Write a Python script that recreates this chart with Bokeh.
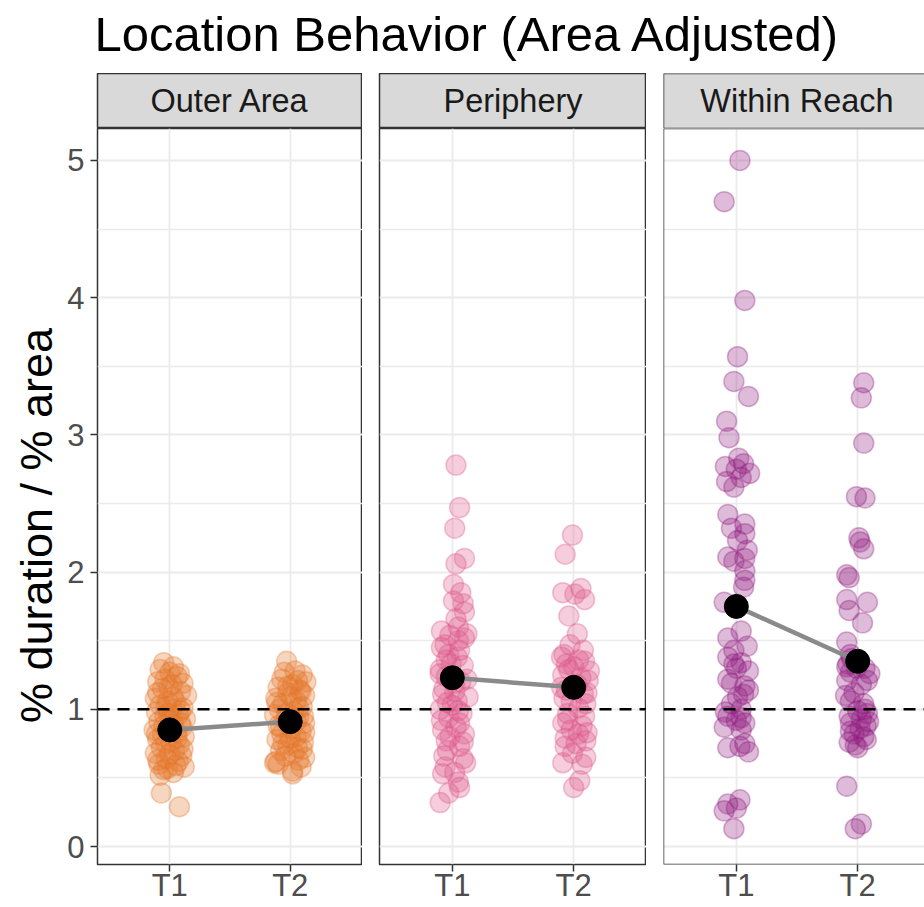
import math
from bokeh.plotting import figure
from bokeh.models import Range1d, LinearAxis, FixedTicker, Grid, Span, Label, ColumnDataSource
from bokeh.layouts import column, row
from bokeh.embed import file_html
from bokeh.resources import INLINE

# ---------------- data ----------------
title_text = "Location Behavior (Area Adjusted)"
y_label = "% duration / % area"
areas = ["Outer Area", "Periphery", "Within Reach"]
time_labels = ["T1", "T2"]
time_pos = [1, 2]
y_ticks = [0, 1, 2, 3, 4, 5]
y_minor = [0.5, 1.5, 2.5, 3.5, 4.5]
reference_level = 1

outer_t1_y = [1.34, 1.31, 1.29, 1.27, 1.24, 1.22, 1.20, 1.18, 1.15, 1.13, 1.10, 1.08, 1.06, 1.05, 1.03,
              1.01, 1.00, 0.98, 0.96, 0.95, 0.93, 0.91, 0.89, 0.87, 0.85, 0.83, 0.81, 0.80, 0.78, 0.76,
              0.74, 0.72, 0.70, 0.68, 0.66, 0.64, 0.62, 0.60, 0.58, 0.56, 0.54, 0.52, 0.39, 0.29,
              1.26, 1.19, 1.16, 1.12, 1.09, 1.02, 0.99, 0.97, 0.92, 0.90, 0.88, 0.84, 0.82, 0.79, 0.75,
              0.71, 0.67, 0.63, 0.59, 0.57]
outer_t1_dx = [-0.05, 0.03, -0.08, 0.00, 0.06, -0.04, -0.10, 0.02, -0.06, 0.09, 0.14, -0.12, -0.02, 0.05, -0.08,
               0.11, 0.02, -0.11, 0.07, -0.04, 0.13, -0.09, 0.03, 0.10, -0.13, 0.06, -0.06, 0.12, -0.10, 0.01,
               0.08, -0.07, 0.04, -0.12, 0.10, -0.03, 0.07, -0.09, 0.12, -0.05, 0.03, -0.08, -0.07, 0.08,
               0.08, 0.11, -0.01, -0.10, 0.03, -0.03, 0.09, -0.01, 0.00, 0.09, -0.05, 0.01, -0.11, 0.06, -0.03,
               0.11, 0.00, -0.10, 0.05, -0.02]
outer_t2_y = [1.35, 1.28, 1.25, 1.22, 1.20, 1.18, 1.16, 1.14, 1.12, 1.10, 1.08, 1.06, 1.04, 1.02, 1.00,
              0.98, 0.96, 0.94, 0.92, 0.90, 0.88, 0.86, 0.84, 0.82, 0.80, 0.78, 0.76, 0.74, 0.72, 0.70,
              0.68, 0.65, 0.62, 0.60, 0.58, 0.55, 0.53, 0.61,
              1.27, 1.21, 1.17, 1.13, 1.09, 1.05, 1.01, 0.97, 0.95, 0.91, 0.87, 0.83, 0.79, 0.75, 0.71,
              0.66, 0.63]
outer_t2_dx = [-0.03, 0.04, 0.10, -0.07, 0.13, 0.02, -0.10, 0.08, -0.02, 0.12, -0.12, 0.05, -0.06, 0.10, -0.09,
               0.03, -0.13, 0.07, -0.04, 0.12, -0.10, 0.01, 0.09, -0.07, 0.05, -0.11, 0.11, -0.02, 0.06, -0.08,
               0.03, 0.12, -0.12, -0.10, 0.09, 0.02, 0.02, -0.13,
               -0.05, 0.06, -0.02, 0.09, 0.01, -0.11, 0.07, -0.03, 0.11, 0.05, -0.08, 0.12, 0.00, -0.06, 0.10,
               -0.04, 0.07]

periph_t1_y = [2.78, 2.47, 2.32, 2.10, 2.06, 1.91, 1.85, 1.79, 1.77, 1.71, 1.66, 1.57, 1.54, 1.55, 1.50,
               1.47, 1.43, 1.40, 1.36, 1.32, 1.29, 1.26, 1.22, 1.19, 1.15, 1.11, 1.09, 1.06, 1.03, 1.00,
               0.97, 0.94, 0.90, 0.85, 0.82, 0.77, 0.76, 0.70, 0.64, 0.58, 0.53, 0.54, 0.47, 0.43, 0.39, 0.32,
               1.60, 1.52, 1.45, 1.38, 1.33, 1.24, 1.20, 1.13, 1.05, 0.99, 0.92, 0.87, 0.80, 0.73, 0.66, 0.61]
periph_t1_dx = [0.03, 0.06, 0.02, 0.10, 0.03, 0.01, 0.07, 0.01, 0.09, 0.10, 0.03, -0.09, -0.02, 0.12, 0.05,
                -0.06, 0.06, -0.03, -0.05, 0.09, -0.10, -0.10, 0.12, 0.02, -0.07, -0.08, 0.13, 0.04, 0.00, -0.10,
                0.08, -0.03, 0.06, -0.08, 0.10, -0.05, 0.09, -0.04, 0.09, -0.06, -0.08, 0.02, 0.05, 0.06, -0.03, -0.10,
                0.05, 0.10, -0.09, 0.04, -0.01, -0.05, 0.07, 0.02, -0.04, 0.05, -0.09, 0.03, -0.02, 0.06, -0.07, 0.11]
periph_t2_y = [2.27, 2.13, 1.88, 1.85, 1.84, 1.80, 1.68, 1.55, 1.43, 1.40, 1.38, 1.35, 1.33, 1.31, 1.28,
               1.25, 1.21, 1.18, 1.14, 1.11, 1.08, 1.04, 1.01, 0.97, 0.92, 0.88, 0.85, 0.82, 0.79, 0.77,
               0.73, 0.68, 0.61, 0.60, 0.48, 0.43,
               1.47, 1.36, 1.29, 1.23, 1.16, 1.12, 1.06, 0.95, 0.90, 0.83, 0.75, 0.65]
periph_t2_dx = [-0.01, -0.07, 0.06, -0.09, 0.01, 0.09, -0.04, 0.03, 0.08, -0.08, -0.10, 0.09, -0.06, 0.00, 0.13,
                -0.09, 0.12, 0.03, -0.06, 0.08, -0.08, 0.10, 0.04, -0.05, -0.05, 0.07, -0.02, 0.04, -0.07, 0.10,
                -0.07, -0.01, -0.09, 0.07, 0.05, 0.00,
                -0.03, 0.04, -0.04, 0.06, -0.10, 0.11, -0.02, 0.09, -0.09, 0.11, 0.02, 0.10]

within_t1_y = [5.00, 4.70, 3.98, 3.57, 3.39, 3.28, 3.10, 2.98, 2.83, 2.77, 2.75, 2.72, 2.66, 2.62, 2.42,
               2.35, 2.28, 2.23, 2.11, 2.08, 2.10, 2.01, 1.94, 1.89, 1.78, 1.57, 1.52, 1.43, 1.38, 1.34,
               1.33, 1.28, 1.22, 1.17, 1.14, 1.09, 1.04, 1.00, 0.95, 0.94, 0.90, 0.87, 0.75, 0.72, 0.69,
               0.34, 0.31, 0.26, 0.13,
               2.79, 2.69, 2.32, 2.16, 1.46, 1.30, 1.19, 1.11, 0.98, 0.92, 0.85, 0.73, 0.28]
within_t1_dx = [0.03, -0.10, 0.07, 0.01, -0.02, 0.10, -0.08, -0.06, 0.02, -0.09, 0.00, 0.11, -0.08, -0.02, -0.07,
                0.07, 0.07, 0.01, -0.07, -0.02, 0.07, 0.07, 0.07, 0.06, -0.10, 0.04, -0.07, -0.02, -0.07, 0.04,
                -0.02, 0.10, -0.07, 0.07, 0.10, 0.01, -0.04, 0.04, -0.07, 0.04, 0.07, -0.10, 0.07, -0.07, 0.10,
                0.03, -0.07, -0.10, -0.02,
                0.06, 0.04, -0.04, 0.09, 0.09, 0.00, -0.04, 0.06, -0.09, 0.00, 0.04, 0.03, 0.00]
within_t2_y = [3.38, 3.27, 2.94, 2.55, 2.54, 2.25, 2.22, 2.17, 1.98, 1.96, 1.80, 1.78, 1.72, 1.63, 1.49,
               1.40, 1.33, 1.31, 1.30, 1.30, 1.26, 1.21, 1.21, 1.12, 1.06, 1.04, 0.99, 0.97, 0.93, 0.90,
               0.88, 0.82, 0.80, 0.76, 0.72, 0.44, 0.165, 0.13,
               1.37, 1.27, 1.18, 1.10, 1.00, 0.95, 0.91, 0.86, 0.84, 0.78, 0.74]
within_t2_dx = [0.05, 0.03, 0.05, -0.01, 0.06, 0.01, 0.02, 0.05, -0.09, -0.07, -0.09, 0.08, -0.07, 0.04, -0.09,
                -0.06, -0.08, -0.09, -0.01, 0.06, 0.10, 0.08, -0.09, -0.03, -0.06, 0.05, 0.00, 0.08, 0.03, -0.06,
                0.07, -0.03, 0.05, -0.07, 0.00, -0.09, 0.03, -0.02,
                -0.05, -0.06, 0.03, -0.10, 0.06, -0.07, 0.09, 0.02, -0.06, 0.07, -0.02]

mean_outer = [0.85, 0.91]
mean_periph = [1.23, 1.16]
mean_within = [1.75, 1.35]

# ---------------- styling ----------------
FONT = "Liberation Sans"
area_colors = ["#E6762A", "#DE5A8A", "#911E82"]
GRID = "#EBEBEB"
BORDER = "#333333"
Y_RANGE = (-0.131, 5.233)

panel_data = [
    ((outer_t1_y, outer_t1_dx), (outer_t2_y, outer_t2_dx), mean_outer),
    ((periph_t1_y, periph_t1_dx), (periph_t2_y, periph_t2_dx), mean_periph),
    ((within_t1_y, within_t1_dx), (within_t2_y, within_t2_dx), mean_within),
]

# layout geometry (pixels)
FRAME_W = 267
GAP = 17
LEFT = 95
YLAB_W = 64                 # width of the strip of page holding the y-axis title
HEADER_H = 73
STRIP_H = 55
DATA_H = 779
BOTTOM = 43
BODY_H = STRIP_H + DATA_H
LAST_FRAME_W = 924 - (LEFT + FRAME_W + GAP + FRAME_W + GAP)
YLABEL_CENTER_PX = 525      # vertical centre of the y-axis title (page pixels)
YLABEL_X_PX = 36            # horizontal centre of the y-axis title (page pixels)


def strip_grids(p):
    p.center = [r for r in p.center if not isinstance(r, Grid)]


def base_fig(width, height, left, x_range, y_range, bottom=0, outline=True):
    p = figure(width=width, height=height, output_backend="svg", toolbar_location=None, title=None,
               x_range=x_range, y_range=y_range, x_axis_location=None, y_axis_location=None,
               min_border_left=left, min_border_right=0, min_border_top=0, min_border_bottom=bottom,
               background_fill_color="white", border_fill_color="white")
    strip_grids(p)
    p.outline_line_color = BORDER if outline else None
    p.outline_line_width = 1.5
    return p


def blank_fig(width, height):
    p = figure(width=width, height=height, output_backend="svg", toolbar_location=None, title=None,
               x_range=Range1d(0, width), y_range=Range1d(0, height),
               x_axis_location=None, y_axis_location=None, min_border=0, outline_line_color=None)
    strip_grids(p)
    return p


header = blank_fig(924, HEADER_H)
header.add_layout(Label(x=LEFT - 1, y=HEADER_H - 33, text=title_text,
                        text_font=FONT, text_font_size="49px", text_color="black",
                        text_baseline="middle", text_align="left"))

ylab = blank_fig(YLAB_W, BODY_H)
ylab.add_layout(Label(x=YLABEL_X_PX, y=BODY_H - (YLABEL_CENTER_PX - HEADER_H),
                      text=y_label, angle=math.pi / 2, text_font=FONT, text_font_size="45px",
                      text_color="black", text_align="center", text_baseline="middle"))

columns = [ylab]
for i, (area, (t1, t2, means)) in enumerate(zip(areas, panel_data)):
    last = (i == 2)
    fw = LAST_FRAME_W if last else FRAME_W
    left = (LEFT - YLAB_W) if i == 0 else GAP
    x_end = 0.4 + 2.2 * fw / FRAME_W

    # strip
    s = base_fig(left + fw, STRIP_H, left, Range1d(0.4, x_end), Range1d(0, 1), outline=not last)
    s.background_fill_color = "#D9D9D9"
    if last:
        s.add_layout(Span(location=0.4, dimension="height", line_color=BORDER, line_width=1.5))
        s.add_layout(Span(location=0, dimension="width", line_color=BORDER, line_width=1.5))
        s.add_layout(Span(location=1, dimension="width", line_color=BORDER, line_width=1.5))
    s.add_layout(Label(x=1.5, y=0.5, text=area, text_font=FONT,
                       text_font_size="32.5px", text_color="#1A1A1A",
                       text_align="center", text_baseline="middle"))

    # data panel
    p = base_fig(left + fw, DATA_H, left, Range1d(0.4, x_end), Range1d(*Y_RANGE),
                 bottom=BOTTOM, outline=not last)
    ygrid = Grid(dimension=1, ticker=FixedTicker(ticks=y_ticks, minor_ticks=y_minor),
                 grid_line_color=GRID, grid_line_width=1.8,
                 minor_grid_line_color=GRID, minor_grid_line_width=1.4)
    xgrid = Grid(dimension=0, ticker=FixedTicker(ticks=time_pos), grid_line_color=GRID, grid_line_width=1.8)
    p.add_layout(ygrid)
    p.add_layout(xgrid)

    xaxis = LinearAxis(ticker=FixedTicker(ticks=time_pos),
                       major_label_overrides={tp: lab for tp, lab in zip(time_pos, time_labels)})
    xaxis.axis_line_color = None
    xaxis.major_tick_line_color = BORDER
    xaxis.major_tick_line_width = 1.5
    xaxis.major_tick_out = 7
    xaxis.major_tick_in = 0
    xaxis.minor_tick_line_color = None
    xaxis.major_label_text_font = FONT
    xaxis.major_label_text_font_size = "31px"
    xaxis.major_label_text_color = "#4D4D4D"
    xaxis.major_label_standoff = -4
    p.add_layout(xaxis, "below")

    if i == 0:
        yaxis = LinearAxis(ticker=FixedTicker(ticks=y_ticks))
        yaxis.axis_line_color = None
        yaxis.major_tick_line_color = BORDER
        yaxis.major_tick_line_width = 1.5
        yaxis.major_tick_out = 7
        yaxis.major_tick_in = 0
        yaxis.minor_tick_line_color = None
        yaxis.major_label_text_font = FONT
        yaxis.major_label_text_font_size = "31px"
        yaxis.major_label_text_color = "#4D4D4D"
        yaxis.major_label_standoff = 6
        p.add_layout(yaxis, "left")

    if last:
        p.add_layout(Span(location=0.4, dimension="height", line_color=BORDER, line_width=1.5))
        p.add_layout(Span(location=Y_RANGE[0], dimension="width", line_color=BORDER, line_width=1.5))
        p.add_layout(Span(location=Y_RANGE[1], dimension="width", line_color=BORDER, line_width=1.5))

    color = area_colors[i]
    for tp, (yy, dd) in zip(time_pos, (t1, t2)):
        src = ColumnDataSource(dict(x=[tp + d for d in dd], y=yy))
        p.scatter("x", "y", source=src, size=20, marker="circle",
                  fill_color=color, fill_alpha=0.3, line_color=color, line_alpha=0.35, line_width=1.5)

    p.add_layout(Span(location=reference_level, dimension="width", line_color="black",
                      line_width=2.5, line_dash="12 8"))

    msrc = ColumnDataSource(dict(x=time_pos, y=means))
    p.line("x", "y", source=msrc, line_color="#8A8A8A", line_width=4.5)
    p.scatter("x", "y", source=msrc, size=24, marker="circle", fill_color="black", line_color="black")

    columns.append(column(s, p))

layout = column(header, row(*columns))

with open("out.html", "w") as f:
    f.write(file_html(layout, INLINE))
